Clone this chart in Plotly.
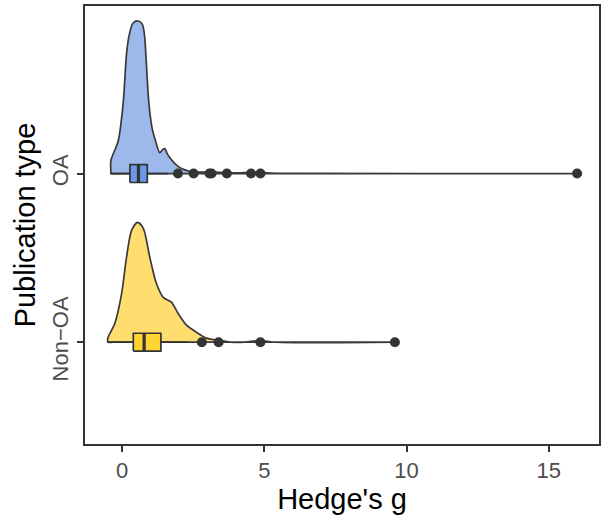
import plotly.graph_objects as go

# ---- data ----
categories = ["Non\u2212OA", "OA"]
cat_pos = [1, 2]

# half-violin outlines (x = Hedge's g, h = density height in category units)
oa_dens_x = [-0.40, -0.40, -0.40, -0.14, 0.04, 0.15, 0.25, 0.38, 0.56, 0.70, 0.78, 0.83, 0.93, 1.05, 1.17,
             1.32, 1.42, 1.50, 1.58, 1.67, 1.85, 2.08, 2.55, 3.10, 3.60, 4.00, 4.60, 5.20, 6.00, 16.0]
oa_dens_h = [0.0, 0.01, 0.077, 0.195, 0.432, 0.710, 0.826, 0.893, 0.905, 0.888, 0.826, 0.710, 0.432, 0.270,
             0.195, 0.124, 0.142, 0.148, 0.118, 0.095, 0.059, 0.030, 0.009, 0.010, 0.006, 0.004, 0.008, 0.003,
             0.001, 0.0]
non_dens_x = [-0.51, -0.51, -0.51, -0.26, -0.02, 0.15, 0.33, 0.54, 0.74, 0.97, 1.20, 1.44, 1.73, 1.96, 2.26, 2.61,
              2.96, 3.36, 3.83, 4.30, 4.86, 5.40, 9.59]
non_dens_h = [0.0, 0.005, 0.024, 0.112, 0.290, 0.503, 0.663, 0.710, 0.675, 0.503, 0.349, 0.266, 0.237, 0.172,
              0.101, 0.059, 0.024, 0.012, 0.0, 0.0, 0.010, 0.0, 0.0]

# box summaries [Non-OA, OA]
box_q1 = [0.39, 0.27]
box_median = [0.77, 0.57]
box_q3 = [1.36, 0.88]
box_low = [-0.51, -0.40]
box_high = [2.30, 1.60]

# outliers
oa_outliers = [1.96, 2.51, 3.07, 3.14, 3.68, 4.53, 4.86, 16.0]
non_outliers = [2.80, 3.39, 4.86, 9.59]

violin_fill = ["#FFDD6E", "#9DB8EA"]
box_fill = ["#FFD433", "#6B9AE8"]
dark = "#333333"
box_half = 0.053

fig = go.Figure()

# half violins: filled area (closed along the baseline) + smooth outline
for i, (dx, dh) in enumerate([(non_dens_x, non_dens_h), (oa_dens_x, oa_dens_h)]):
    base = cat_pos[i]
    x0, x1 = dx[0], dx[-1]
    back = [x1, x1 - 0.2, (x0 + x1) / 2, x0 + 0.2, x0]
    xs = list(dx) + back
    ys = [base + h for h in dh] + [base] * len(back)
    fig.add_trace(go.Scatter(x=xs, y=ys, mode="lines", fill="toself",
                             fillcolor=violin_fill[i],
                             line=dict(color="#3a3a3a", width=1.7, shape="spline", smoothing=0.8),
                             hoverinfo="skip", showlegend=False))

# boxes (whisker line, box, median)
for i in range(2):
    b = cat_pos[i]
    fig.add_trace(go.Scatter(x=[box_low[i], box_high[i]], y=[b, b], mode="lines",
                             line=dict(color=dark, width=1.7), hoverinfo="skip", showlegend=False))
    fig.add_trace(go.Scatter(x=[box_q1[i], box_q3[i], box_q3[i], box_q1[i], box_q1[i]],
                             y=[b - box_half, b - box_half, b + box_half, b + box_half, b - box_half],
                             mode="lines", fill="toself", fillcolor=box_fill[i],
                             line=dict(color=dark, width=1.7), hoverinfo="skip", showlegend=False))
    fig.add_trace(go.Scatter(x=[box_median[i], box_median[i]], y=[b - box_half, b + box_half],
                             mode="lines", line=dict(color=dark, width=3.2),
                             hoverinfo="skip", showlegend=False))

# outliers
for i, pts in enumerate([non_outliers, oa_outliers]):
    fig.add_trace(go.Scatter(x=pts, y=[cat_pos[i]] * len(pts), mode="markers",
                             marker=dict(color=dark, size=10),
                             showlegend=False, hoverinfo="skip"))

fig.update_layout(
    width=605, height=517,
    margin=dict(l=85, r=4, t=5, b=73),
    paper_bgcolor="white", plot_bgcolor="white",
    font=dict(family="Liberation Sans, Arial, sans-serif"),
)
fig.update_xaxes(range=[-1.31, 16.77], tickvals=[0, 5, 10, 15], ticks="outside", ticklen=6,
                 tickwidth=1.7, tickcolor=dark, showgrid=False, zeroline=False,
                 showline=True, linecolor=dark, linewidth=2, mirror=True,
                 tickfont=dict(size=22, color="#4D4D4D"),
                 title=dict(text="Hedge's g", font=dict(size=29, color="black"), standoff=4))
fig.update_yaxes(range=[0.396, 2.994], tickvals=cat_pos, ticktext=categories, tickangle=-90,
                 ticks="outside", ticklen=6, tickwidth=1.7, tickcolor=dark,
                 showgrid=False, zeroline=False,
                 showline=True, linecolor=dark, linewidth=2, mirror=True,
                 tickfont=dict(size=22, color="#4D4D4D"),
                 title=dict(text="Publication type", font=dict(size=29, color="black"), standoff=4))

fig.write_html("out.html")
